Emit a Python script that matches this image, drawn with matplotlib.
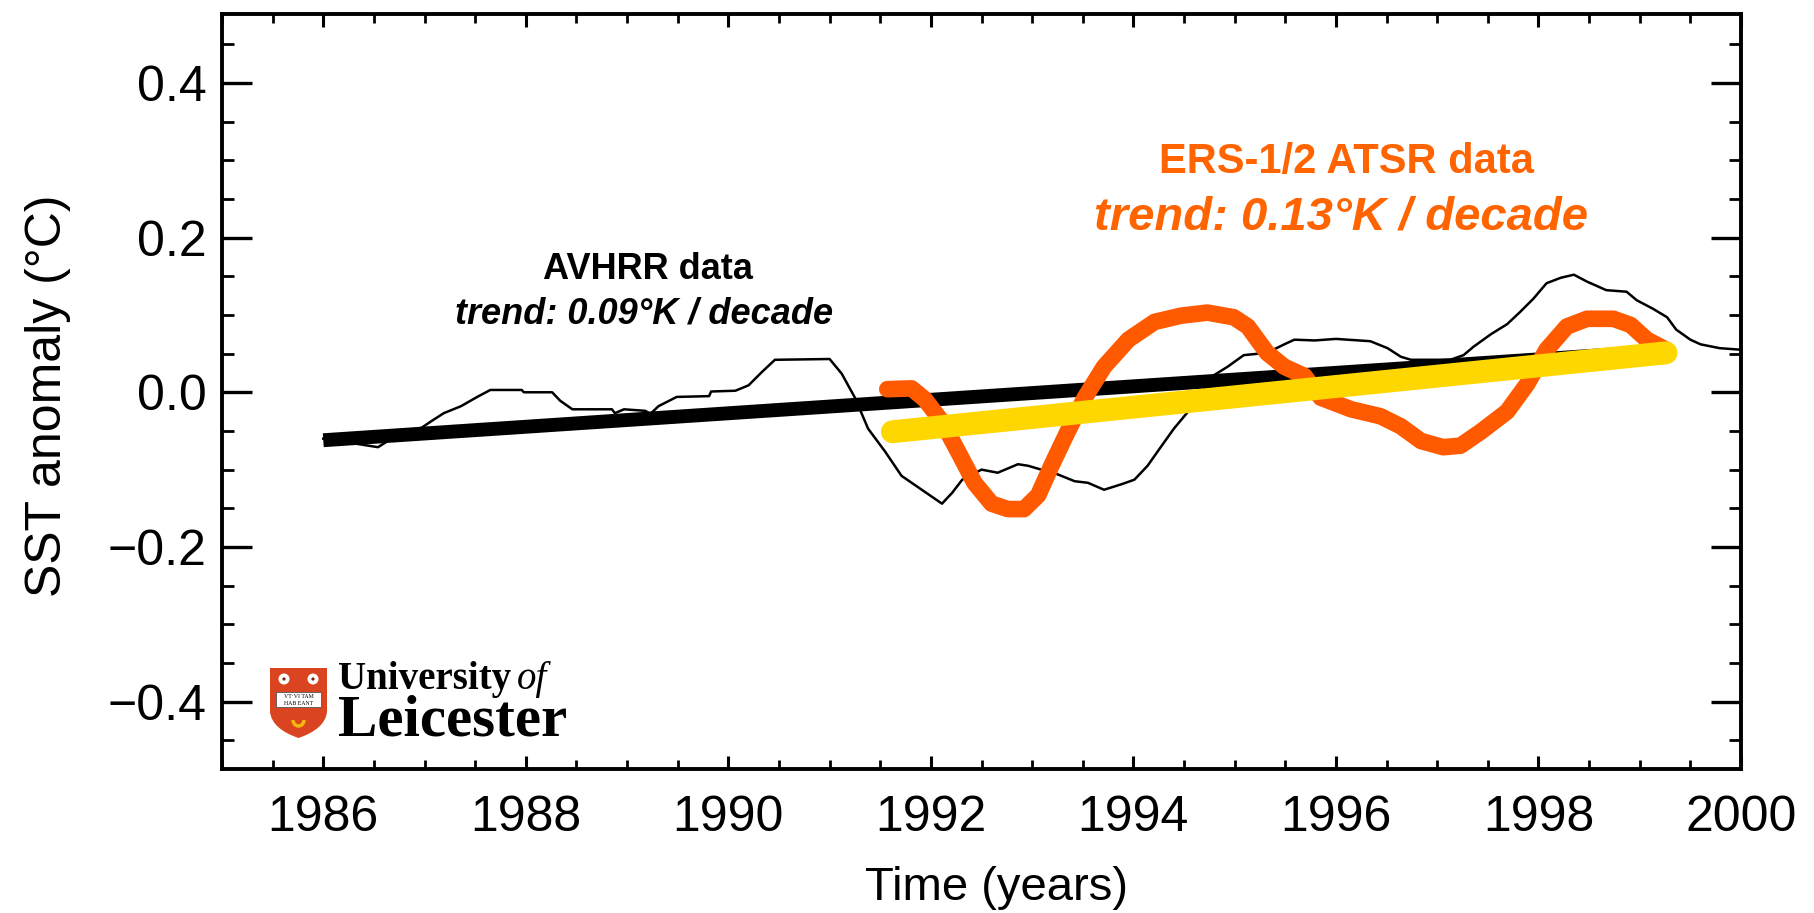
import matplotlib
matplotlib.use("Agg")
import matplotlib.pyplot as plt
from matplotlib.ticker import MultipleLocator, FuncFormatter
from matplotlib.patches import PathPatch, Circle, Rectangle, Arc
from matplotlib.path import Path

# AVHRR monthly SST anomaly (thin black line)
avhrr_years = [1986.0, 1986.3, 1986.54, 1986.65, 1986.76, 1986.97, 1987.06, 1987.19,
               1987.36, 1987.52, 1987.65, 1987.96, 1987.98, 1988.26, 1988.34, 1988.46,
               1988.85, 1988.88, 1988.97, 1989.18, 1989.23, 1989.31, 1989.49, 1989.81,
               1989.83, 1990.07, 1990.20, 1990.33, 1990.46, 1991.0, 1991.12, 1991.25,
               1991.38, 1991.55, 1991.71, 1991.91, 1992.11, 1992.21, 1992.31, 1992.50,
               1992.66, 1992.86, 1992.96, 1993.09, 1993.25, 1993.42, 1993.55, 1993.71,
               1993.88, 1994.01, 1994.14, 1994.28, 1994.40, 1994.54, 1994.67, 1994.77,
               1994.93, 1995.09, 1995.32, 1995.49, 1995.59, 1995.79, 1996.0, 1996.34,
               1996.51, 1996.64, 1996.74, 1997.13, 1997.26, 1997.36, 1997.53, 1997.69,
               1997.82, 1997.95, 1998.08, 1998.22, 1998.35, 1998.48, 1998.67, 1998.87,
               1998.97, 1999.13, 1999.27, 1999.36, 1999.50, 1999.60, 1999.79, 2000.0]
avhrr_sst = [-0.060, -0.066, -0.071, -0.062, -0.051, -0.046, -0.038, -0.027,
             -0.018, -0.006, 0.003, 0.003, 0.0, 0.0, -0.011, -0.022,
             -0.022, -0.027, -0.022, -0.024, -0.028, -0.018, -0.006, -0.005,
             0.001, 0.002, 0.009, 0.026, 0.042, 0.043, 0.024, -0.007,
             -0.047, -0.077, -0.108, -0.126, -0.144, -0.130, -0.113, -0.100,
             -0.104, -0.093, -0.095, -0.100, -0.106, -0.115, -0.117, -0.126,
             -0.119, -0.113, -0.095, -0.069, -0.047, -0.025, -0.002, 0.020,
             0.033, 0.048, 0.051, 0.062, 0.068, 0.067, 0.069, 0.066,
             0.057, 0.046, 0.042, 0.042, 0.048, 0.059, 0.075, 0.088,
             0.104, 0.121, 0.141, 0.148, 0.152, 0.143, 0.132, 0.130,
             0.119, 0.108, 0.097, 0.081, 0.068, 0.062, 0.057, 0.055]

# AVHRR linear trend (thick black)
avhrr_trend_years = [1986.0, 1999.2]
avhrr_trend = [-0.062, 0.053]

# ERS-1/2 ATSR smoothed anomaly (orange)
atsr_years = [1991.57, 1991.81, 1991.94, 1992.11, 1992.27, 1992.43, 1992.60, 1992.76,
              1992.92, 1993.06, 1993.19, 1993.35, 1993.52, 1993.71, 1993.95, 1994.21,
              1994.47, 1994.73, 1994.99, 1995.13, 1995.32, 1995.49, 1995.69, 1995.85,
              1996.15, 1996.44, 1996.64, 1996.84, 1997.06, 1997.23, 1997.43, 1997.69,
              1997.89, 1998.08, 1998.28, 1998.48, 1998.74, 1998.91, 1999.07, 1999.26]
atsr_sst = [0.004, 0.005, -0.009, -0.038, -0.077, -0.117, -0.144, -0.151,
            -0.151, -0.133, -0.095, -0.051, -0.007, 0.033, 0.068, 0.091,
            0.099, 0.103, 0.097, 0.085, 0.051, 0.033, 0.021, -0.007,
            -0.022, -0.031, -0.044, -0.063, -0.071, -0.069, -0.051, -0.025,
            0.011, 0.055, 0.085, 0.095, 0.095, 0.087, 0.068, 0.055]

# ATSR linear trend (yellow)
atsr_trend_years = [1991.62, 1999.26]
atsr_trend = [-0.051, 0.051]

x_ticks = [1986, 1988, 1990, 1992, 1994, 1996, 1998, 2000]
y_ticks = [-0.4, -0.2, 0.0, 0.2, 0.4]

ORANGE_LINE = "#ff5a00"
ORANGE_TEXT = "#ff6400"
YELLOW = "#ffd700"

W, H = 1814, 913


def fx(px):
    return px / W


def fy(py):
    return 1 - py / H


def main():
    fig = plt.figure(figsize=(W / 100, H / 100), dpi=100)
    ax = fig.add_axes([fx(222), fy(769), 1519 / W, 755 / H])

    ax.plot(avhrr_years, avhrr_sst, color="black", linewidth=1.8, zorder=2)
    ax.plot(avhrr_trend_years, avhrr_trend, color="black", linewidth=10,
            solid_capstyle="butt", zorder=3)
    ax.plot(atsr_years, atsr_sst, color=ORANGE_LINE, linewidth=12,
            solid_capstyle="round", solid_joinstyle="round", zorder=4)
    ax.plot(atsr_trend_years, atsr_trend, color=YELLOW, linewidth=16.5,
            solid_capstyle="round", zorder=5)

    ax.set_xlim(1985, 2000)
    ax.set_ylim(-0.487, 0.489)

    ax.set_xticks(x_ticks)
    ax.set_yticks(y_ticks)
    ax.xaxis.set_minor_locator(MultipleLocator(0.5))
    ax.yaxis.set_minor_locator(MultipleLocator(0.05))
    ax.yaxis.set_major_formatter(FuncFormatter(lambda v, p: f"{v:.1f}".replace("-", "\u2212")))

    tick_font = "Liberation Sans"
    ax.tick_params(axis="x", which="major", direction="in", length=9.5, width=2.2,
                   top=True, pad=19, labelsize=36)
    ax.tick_params(axis="x", which="minor", direction="in", length=6.5, width=2,
                   top=True)
    ax.tick_params(axis="y", which="major", direction="in", length=21.5, width=2.4,
                   right=True, pad=11, labelsize=36)
    ax.tick_params(axis="y", which="minor", direction="in", length=8.6, width=2,
                   right=True)
    for lab in ax.get_xticklabels() + ax.get_yticklabels():
        lab.set_family(tick_font)

    for sp in ax.spines.values():
        sp.set_linewidth(2.8)

    ax.set_xlabel("Time (years)", fontsize=34, family=tick_font, va="baseline")
    ax.xaxis.set_label_coords(0.51, -131 / 755)
    ax.set_ylabel("SST anomaly (\u00b0C)", fontsize=36, family=tick_font, va="center")
    ax.yaxis.set_label_coords((48 - 222) / 1519, (769 - 396) / 755)

    # annotations
    ax.text(1989.21, 0.146, "AVHRR data", color="black", fontsize=26,
            fontweight="bold", family="Liberation Sans", ha="center", va="baseline")
    ax.text(1989.17, 0.089, "trend: 0.09\u00b0K / decade", color="black", fontsize=26,
            fontweight="bold", fontstyle="italic", family="Liberation Sans",
            ha="center", va="baseline")
    ax.text(1996.10, 0.283, "ERS-1/2 ATSR data", color=ORANGE_TEXT, fontsize=30,
            fontweight="bold", family="Liberation Sans", ha="center", va="baseline")
    ax.text(1996.05, 0.211, "trend: 0.13\u00b0K / decade", color=ORANGE_TEXT, fontsize=34,
            fontweight="bold", fontstyle="italic", family="Liberation Sans",
            ha="center", va="baseline")

    # University of Leicester logo
    lax = fig.add_axes([fx(266), fy(742), 66 / W, 78 / H])
    lax.set_xlim(266, 332)
    lax.set_ylim(742, 664)
    lax.set_axis_off()
    verts = [(270, 668), (327, 668), (327, 712), (325, 729), (298.5, 738),
             (272, 729), (270, 712), (270, 668)]
    codes = [Path.MOVETO, Path.LINETO, Path.LINETO, Path.CURVE3, Path.CURVE3,
             Path.CURVE3, Path.CURVE3, Path.CLOSEPOLY]
    lax.add_patch(PathPatch(Path(verts, codes), facecolor="#da4420", edgecolor="none"))
    for cx in (284, 313):
        lax.add_patch(Circle((cx, 679), 5.5, facecolor="white", edgecolor="none"))
        lax.add_patch(Circle((cx, 679), 1.6, facecolor="#7a2010", edgecolor="none"))
    lax.add_patch(Rectangle((276, 692), 45, 15, facecolor="white",
                            edgecolor="#555555", linewidth=0.6))
    lax.text(298.5, 697, "VT\u00b7VI TAM", fontsize=4.2, family="Liberation Serif",
             ha="center", va="center")
    lax.text(298.5, 703.5, "HAB EANT", fontsize=4.2, family="Liberation Serif",
             ha="center", va="center")
    lax.add_patch(Arc((298.5, 720), 11, 12, theta1=0, theta2=180,
                      color="#f2b70c", linewidth=2.5))

    fig.text(fx(338), fy(689), "University", fontsize=28, fontweight="bold",
             family="Liberation Serif", ha="left", va="baseline")
    fig.text(fx(517), fy(689), "of", fontsize=28, fontstyle="italic",
             family="Liberation Serif", ha="left", va="baseline")
    fig.text(fx(338), fy(735), "Leicester", fontsize=42.5, fontweight="bold",
             family="Liberation Serif", ha="left", va="baseline")

    fig.savefig("out.png", dpi=100, facecolor="white")


if __name__ == "__main__":
    main()
